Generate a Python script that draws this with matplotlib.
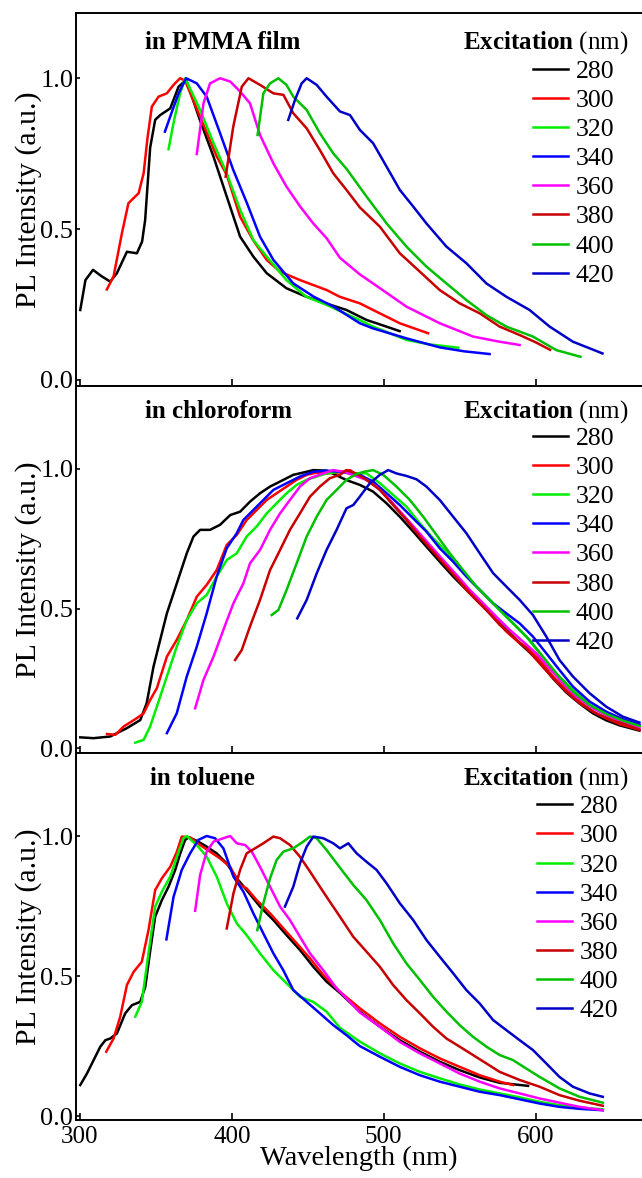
import matplotlib
matplotlib.use("Agg")
import matplotlib.pyplot as plt

plt.rcParams['font.family'] = ['Liberation Serif', 'DejaVu Serif']
plt.rcParams['mathtext.fontset'] = 'custom'
plt.rcParams['mathtext.rm'] = 'Liberation Serif'
plt.rcParams['mathtext.bf'] = 'Liberation Serif:bold'

excitation = ['280', '300', '320', '340', '360', '380', '400', '420']
colors = ['#000000', '#ff0000', '#00ee00', '#0000ff', '#ff00ff', '#c80000', '#00c000', '#0000c8']

# ---- in PMMA film ----
pmma_wl_280 = [300.3, 303.7, 308.7, 314, 320, 324.4, 331, 337.6, 341, 343, 346.3, 349.6, 352.9, 359.5, 365, 370,
               379, 388, 396.7, 405.5, 414.2, 423, 436, 449, 462, 475.5, 488.7, 500, 510.5]
pmma_pl_280 = [0.232, 0.331, 0.365, 0.345, 0.326, 0.354, 0.425, 0.42, 0.459, 0.53, 0.77, 0.862, 0.878, 0.90, 0.972, 0.995,
               0.862, 0.74, 0.608, 0.475, 0.409, 0.354, 0.304, 0.276, 0.254, 0.232, 0.199, 0.18, 0.162]
pmma_wl_300 = [317.8, 322.2, 327.7, 332, 338.7, 342, 344.5, 347.4, 351.8, 357.3, 361.7, 366, 369.3, 380, 390, 396.7,
               405.5, 414, 423, 431.8, 445, 462.5, 471, 484.3, 493, 510.6, 529.2]
pmma_pl_300 = [0.30, 0.343, 0.486, 0.586, 0.619, 0.685, 0.80, 0.906, 0.939, 0.950, 0.978, 1.0, 0.992, 0.862, 0.742, 0.68,
               0.541, 0.464, 0.398, 0.359, 0.331, 0.298, 0.276, 0.254, 0.232, 0.188, 0.155]
pmma_wl_320 = [358.4, 362, 366, 369.3, 379.2, 388, 396.7, 405.5, 414.2, 423, 436, 449, 462.4, 484, 493, 515, 530, 549]
pmma_pl_320 = [0.765, 0.86, 0.95, 1.0, 0.895, 0.785, 0.685, 0.564, 0.464, 0.409, 0.331, 0.276, 0.249, 0.199, 0.177,
               0.133, 0.118, 0.107]
pmma_wl_340 = [356, 360, 365, 370, 377, 383.5, 392.3, 401, 410, 418.6, 427.4, 440.5, 454, 467, 484.3, 493, 515, 537,
               553, 569.7]
pmma_pl_340 = [0.823, 0.88, 0.95, 1.0, 0.983, 0.939, 0.818, 0.696, 0.586, 0.475, 0.398, 0.320, 0.276, 0.243, 0.188,
               0.171, 0.138, 0.108, 0.095, 0.086]
pmma_wl_360 = [377, 381.4, 385.7, 392.3, 399, 405.5, 412, 418.6, 427.4, 436, 445, 453.6, 462.4, 471.2, 484.3, 493, 515,
               536.9, 558.8, 575, 589.5]
pmma_pl_360 = [0.749, 0.917, 0.983, 1.0, 0.989, 0.956, 0.917, 0.812, 0.718, 0.641, 0.575, 0.519, 0.470, 0.405, 0.35,
               0.32, 0.243, 0.188, 0.144, 0.128, 0.116]
pmma_wl_380 = [396, 401, 406.6, 411, 418.6, 427.4, 434, 440.5, 449.3, 458, 466.8, 475.5, 484.3, 497.5, 510.6, 523.8,
               536.9, 550, 563.2, 576.3, 589.5, 600, 609.5]
pmma_pl_380 = [0.674, 0.840, 0.972, 1.0, 0.978, 0.950, 0.945, 0.884, 0.834, 0.762, 0.685, 0.63, 0.572, 0.508, 0.42,
               0.359, 0.298, 0.254, 0.221, 0.177, 0.149, 0.125, 0.10]
pmma_wl_400 = [417, 420.8, 425.2, 430.7, 436, 440.5, 449.3, 458, 466.8, 475.5, 488.7, 501.9, 515, 528.1, 541.3, 554.4,
               567.6, 580.7, 598.2, 613.6, 629.5]
pmma_pl_400 = [0.812, 0.950, 0.983, 1.0, 0.978, 0.939, 0.895, 0.818, 0.751, 0.70, 0.608, 0.519, 0.442, 0.376, 0.320,
               0.265, 0.215, 0.177, 0.144, 0.099, 0.077]
pmma_wl_420 = [437.2, 441.6, 446, 449.3, 455.9, 462.4, 471.2, 477.8, 484.3, 493, 501.9, 510.6, 519.4, 528.1, 541.3,
               554.4, 567.6, 580.7, 596, 609.2, 624.5, 644]
pmma_pl_420 = [0.862, 0.928, 0.983, 1.0, 0.978, 0.939, 0.89, 0.878, 0.829, 0.785, 0.707, 0.63, 0.575, 0.519, 0.442,
               0.387, 0.32, 0.276, 0.232, 0.177, 0.127, 0.088]

# ---- in chloroform ----
chl_wl_280 = [300.3, 309, 320, 331, 339.8, 344, 348.5, 352.9, 357.3, 361.7, 366, 370.4, 374.8, 379.2, 385.7, 392.3,
              399, 405.5, 412, 418.6, 425.2, 431.8, 440.5, 449.3, 453.7, 462.4, 475.6, 484.3, 493, 501.9, 510.6, 519.4,
              528.1, 536.9, 545.7, 554.4, 563.2, 572, 580.7, 589.5, 602.6, 611.4, 620.1, 628.9, 637.7, 646.4, 655.2,
              668.3]
chl_pl_280 = [0.039, 0.036, 0.042, 0.072, 0.101, 0.161, 0.292, 0.388, 0.483, 0.555, 0.626, 0.698, 0.758, 0.782, 0.782,
              0.800, 0.835, 0.847, 0.883, 0.913, 0.937, 0.955, 0.979, 0.990, 0.996, 0.994, 0.96, 0.943, 0.919, 0.877,
              0.829, 0.776, 0.722, 0.668, 0.615, 0.567, 0.519, 0.471, 0.424, 0.376, 0.31, 0.25, 0.2, 0.16, 0.125, 0.1,
              0.082, 0.063]
chl_wl_300 = [317.9, 323.4, 328.9, 336.5, 342, 346.3, 350.7, 357.3, 363.8, 370.4, 377, 383.5, 390.1, 396.7, 403.3,
              409.8, 416.4, 423, 429.5, 436.1, 442.7, 449.3, 455.9, 462.4, 469, 477.8, 484.3, 493, 501.9, 510.6, 519.4,
              528.1, 536.9, 545.7, 554.4, 563.2, 572, 580.7, 589.5, 593.8, 602.6, 611.4, 620.1, 628.9, 637.7, 646.4,
              655.2, 668.3]
chl_pl_300 = [0.051, 0.048, 0.078, 0.104, 0.125, 0.173, 0.215, 0.328, 0.388, 0.459, 0.543, 0.585, 0.638, 0.728, 0.764,
              0.817, 0.853, 0.889, 0.913, 0.937, 0.961, 0.979, 0.987, 0.984, 0.987, 0.996, 0.972, 0.955, 0.9, 0.847,
              0.794, 0.734, 0.68, 0.627, 0.567, 0.519, 0.471, 0.418, 0.376, 0.364, 0.316, 0.257, 0.209, 0.167, 0.131,
              0.107, 0.087, 0.066]
chl_wl_320 = [336.5, 342, 346.3, 350.7, 357.3, 363.8, 370.4, 377, 383.5, 390.1, 396.7, 403.3, 409.8, 416.4, 423, 429.5,
              436.1, 442.7, 449.3, 455.9, 462.4, 471.2, 480, 488.7, 497.5, 506.2, 515, 523.8, 532.5, 541.3, 550, 558.8,
              567.6, 576.3, 585.1, 593.8, 602.6, 613.6, 624.5, 635.5, 646.4, 657.4, 668.3]
chl_pl_320 = [0.02, 0.03, 0.078, 0.149, 0.257, 0.364, 0.459, 0.519, 0.549, 0.615, 0.674, 0.698, 0.758, 0.794, 0.841,
              0.877, 0.913, 0.943, 0.961, 0.973, 0.984, 0.99, 0.985, 0.984, 0.949, 0.907, 0.865, 0.805, 0.752, 0.704,
              0.65, 0.591, 0.543, 0.495, 0.447, 0.4, 0.34, 0.268, 0.209, 0.155, 0.119, 0.095, 0.075]
chl_wl_340 = [357.3, 363.8, 370.4, 377, 383.5, 390.1, 396.7, 403.3, 407.6, 414.2, 420.8, 427.4, 436.1, 444.9, 453.6,
              462.4, 471.2, 484.3, 493, 501.9, 510.6, 519.4, 528.1, 536.9, 545.7, 554.4, 563.2, 572, 580.7, 589.5, 598.2,
              607, 615.7, 624.5, 635.5, 646.4, 657.4, 668.3]
chl_pl_340 = [0.054, 0.125, 0.257, 0.364, 0.483, 0.615, 0.716, 0.77, 0.817, 0.853, 0.889, 0.925, 0.949, 0.973, 0.99,
              0.994, 0.99, 0.979, 0.955, 0.913, 0.871, 0.823, 0.776, 0.716, 0.668, 0.615, 0.567, 0.519, 0.483, 0.447,
              0.4, 0.34, 0.28, 0.221, 0.167, 0.131, 0.104, 0.084]
chl_wl_360 = [375.9, 381.4, 388, 394.5, 401.1, 407.7, 412, 418.6, 425.2, 431.8, 438.3, 444.9, 451.5, 460.2, 466.8,
              473.4, 480, 488.7, 495.3, 504, 512.8, 521.6, 530.3, 539.1, 547.9, 556.6, 565.4, 574.1, 582.9, 591.7,
              600.4, 609.2, 617.9, 626.7, 637.7, 648.6, 659.5, 668.3]
chl_pl_360 = [0.143, 0.245, 0.328, 0.424, 0.519, 0.591, 0.662, 0.71, 0.782, 0.841, 0.889, 0.937, 0.967, 0.984, 0.996,
              0.99, 0.978, 0.961, 0.937, 0.889, 0.835, 0.782, 0.728, 0.674, 0.621, 0.567, 0.519, 0.471, 0.424, 0.382,
              0.34, 0.286, 0.233, 0.185, 0.143, 0.113, 0.09, 0.072]
chl_wl_380 = [402.2, 406.6, 412, 418.6, 425.2, 431.8, 438.3, 444.9, 451.5, 458, 464.6, 471.2, 475.5, 482, 488.7, 497.5,
              506.2, 515, 523.8, 532.5, 541.3, 550, 558.8, 567.6, 576.3, 585.1, 593.8, 602.6, 611.4, 620.1, 628.9,
              639.8, 650.8, 661.7, 668.3]
chl_pl_380 = [0.316, 0.352, 0.436, 0.531, 0.638, 0.71, 0.782, 0.841, 0.901, 0.937, 0.967, 0.979, 0.996, 0.983, 0.961,
              0.925, 0.871, 0.817, 0.758, 0.704, 0.65, 0.597, 0.543, 0.495, 0.442, 0.4, 0.358, 0.304, 0.251, 0.203,
              0.161, 0.125, 0.099, 0.08, 0.066]
chl_wl_400 = [426.3, 430.7, 436.1, 442.7, 449.3, 455.9, 462.4, 469, 475.5, 482.1, 487, 493, 499.7, 508.4, 517.2, 526,
              534.7, 543.5, 552.2, 561, 569.8, 578.5, 587.3, 596, 604.8, 613.6, 624.5, 635.5, 646.4, 657.4, 668.3]
chl_pl_400 = [0.477, 0.495, 0.567, 0.662, 0.758, 0.829, 0.889, 0.925, 0.961, 0.982, 0.99, 0.996, 0.979, 0.937, 0.889,
              0.829, 0.764, 0.698, 0.638, 0.579, 0.531, 0.483, 0.436, 0.388, 0.328, 0.268, 0.203, 0.155, 0.123, 0.099,
              0.08]
chl_wl_420 = [443.1, 449.3, 455.9, 462.4, 469, 475.5, 480, 484.3, 490.9, 497.5, 503, 508.4, 515, 521.6, 528.1, 536.9,
              545.7, 554.4, 563.2, 572, 580.7, 589.5, 598.2, 607, 615.7, 624.5, 635.5, 646.4, 657.4, 668.3]
chl_pl_420 = [0.465, 0.531, 0.626, 0.71, 0.782, 0.859, 0.871, 0.901, 0.949, 0.979, 0.996, 0.984, 0.975, 0.963, 0.937,
              0.889, 0.829, 0.77, 0.698, 0.627, 0.579, 0.531, 0.477, 0.4, 0.316, 0.257, 0.197, 0.149, 0.113, 0.092]

# ---- in toluene ----
tol_wl_280 = [300.3, 304.7, 309.1, 313.5, 316.8, 320, 324.4, 329.9, 334.3, 339.8, 343.1, 346.4, 349.6, 354, 358.4,
              362.8, 366.1, 369.3, 371.6, 377, 383.5, 390.1, 396.7, 403.3, 409.8, 418.6, 427.4, 436.1, 444.9, 453.7,
              462.4, 471.2, 484.3, 497.5, 510.6, 523.8, 536.9, 550, 563.2, 576.3, 595]
tol_pl_280 = [0.111, 0.152, 0.2, 0.248, 0.271, 0.277, 0.295, 0.367, 0.396, 0.408, 0.462, 0.593, 0.712, 0.771, 0.819,
              0.879, 0.938, 0.986, 0.995, 0.983, 0.962, 0.938, 0.902, 0.849, 0.807, 0.748, 0.7, 0.646, 0.593, 0.533,
              0.48, 0.44, 0.373, 0.319, 0.271, 0.23, 0.194, 0.164, 0.138, 0.119, 0.108]
tol_wl_300 = [317.4, 322.2, 326.6, 331, 335.4, 340.8, 345.2, 349.6, 354, 359.5, 363.9, 367.1, 372.6, 379.2, 385.7,
              392.3, 398.9, 405.5, 409.8, 416.4, 425.2, 434, 442.7, 451.5, 460.2, 471.2, 484.3, 497.5, 510.6, 523.8,
              536.9, 550, 563.2, 576.3, 585.1]
tol_pl_300 = [0.23, 0.277, 0.355, 0.468, 0.515, 0.551, 0.664, 0.807, 0.849, 0.89, 0.944, 0.998, 0.995, 0.968, 0.944,
              0.92, 0.89, 0.825, 0.813, 0.771, 0.724, 0.67, 0.617, 0.563, 0.504, 0.444, 0.385, 0.331, 0.283, 0.242,
              0.206, 0.176, 0.146, 0.123, 0.111]
tol_wl_320 = [336.5, 340.8, 345.2, 349.6, 354, 359.5, 363.9, 368.2, 370.4, 377, 383.5, 390.1, 396.7, 403.3, 409.8,
              418.6, 427.4, 436.1, 444.9, 453.6, 462.4, 471.2, 484.3, 497.5, 510.6, 523.8, 536.9, 550, 563.2, 576.3,
              589.5, 602.6, 615.7, 628.9, 644.2]
tol_pl_320 = [0.355, 0.408, 0.581, 0.748, 0.801, 0.855, 0.926, 0.992, 1.0, 0.968, 0.926, 0.855, 0.76, 0.688, 0.646,
              0.581, 0.521, 0.474, 0.426, 0.408, 0.373, 0.315, 0.266, 0.224, 0.188, 0.158, 0.135, 0.113, 0.095, 0.081,
              0.067, 0.051, 0.039, 0.031, 0.024]
tol_wl_340 = [357, 361.7, 367.1, 372.6, 378, 383.5, 389, 394.5, 401.1, 407.7, 414.2, 420.8, 427.4, 433.9, 440.5, 449.3,
              458, 466.8, 475.5, 484.3, 497.5, 510.6, 523.8, 536.9, 550, 563.2, 576.3, 589.5, 602.6, 615.7, 628.9, 644.2]
tol_pl_340 = [0.631, 0.783, 0.879, 0.938, 0.986, 1.0, 0.992, 0.956, 0.855, 0.801, 0.724, 0.652, 0.581, 0.521, 0.45,
              0.408, 0.367, 0.325, 0.289, 0.25, 0.212, 0.176, 0.146, 0.123, 0.105, 0.087, 0.075, 0.06, 0.045, 0.033,
              0.026, 0.021]
tol_wl_360 = [375.9, 379.2, 383.5, 388, 394.5, 399, 403.3, 408.8, 413.2, 418.6, 425.2, 431.8, 438.3, 444.9, 451.5,
              460.2, 469, 477.8, 484.3, 497.5, 510.6, 523.8, 536.9, 550, 563.2, 576.3, 589.5, 602.6, 615.7, 628.9, 644.2]
tol_pl_360 = [0.733, 0.861, 0.944, 0.98, 0.992, 1.0, 0.974, 0.968, 0.944, 0.89, 0.819, 0.748, 0.7, 0.64, 0.581, 0.521,
              0.456, 0.408, 0.37, 0.319, 0.265, 0.224, 0.188, 0.152, 0.123, 0.099, 0.081, 0.063, 0.048, 0.033, 0.021]
tol_wl_380 = [396.7, 401.1, 405.5, 409.8, 415.3, 420.8, 427.4, 431.8, 438.3, 444.9, 451.5, 458, 464.6, 471.2, 480,
              488.7, 497.5, 506.2, 515, 523.8, 532.5, 541.3, 550, 558.8, 567.6, 576.3, 589.5, 602.6, 615.7, 628.9, 644.2]
tol_pl_380 = [0.67, 0.795, 0.879, 0.938, 0.956, 0.974, 0.998, 0.992, 0.968, 0.926, 0.873, 0.819, 0.765, 0.712, 0.64,
              0.587, 0.533, 0.468, 0.414, 0.367, 0.319, 0.277, 0.248, 0.218, 0.188, 0.158, 0.129, 0.105, 0.075, 0.055,
              0.037]
tol_wl_400 = [416.8, 420.8, 425.2, 429.5, 433.9, 440.5, 447.1, 451.5, 455.9, 462.4, 471.2, 480, 488.7, 497.5, 506.2,
              515, 523.8, 532.5, 541.3, 550, 558.8, 567.6, 576.3, 585.1, 593.8, 602.6, 615.7, 628.9, 644.2]
tol_pl_400 = [0.664, 0.76, 0.849, 0.914, 0.944, 0.956, 0.98, 0.998, 0.992, 0.95, 0.887, 0.825, 0.771, 0.7, 0.617,
              0.545, 0.486, 0.426, 0.373, 0.325, 0.283, 0.248, 0.218, 0.2, 0.17, 0.14, 0.099, 0.069, 0.048]
tol_wl_420 = [435, 440.5, 444.9, 449.3, 453.7, 460.2, 466.8, 471.2, 476.7, 482.2, 488.7, 495.3, 501.9, 510.6, 519.4,
              528.1, 536.9, 545.7, 554.4, 563.2, 572, 580.7, 589.5, 598.2, 607, 615.7, 624.5, 635.5, 644.2]
tol_pl_420 = [0.748, 0.819, 0.902, 0.962, 0.998, 0.992, 0.974, 0.956, 0.974, 0.938, 0.908, 0.879, 0.831, 0.76, 0.7,
              0.629, 0.569, 0.51, 0.45, 0.402, 0.343, 0.307, 0.271, 0.236, 0.188, 0.14, 0.105, 0.081, 0.069]

pmma_wl = [pmma_wl_280, pmma_wl_300, pmma_wl_320, pmma_wl_340, pmma_wl_360, pmma_wl_380, pmma_wl_400, pmma_wl_420]
pmma_pl = [pmma_pl_280, pmma_pl_300, pmma_pl_320, pmma_pl_340, pmma_pl_360, pmma_pl_380, pmma_pl_400, pmma_pl_420]
chl_wl = [chl_wl_280, chl_wl_300, chl_wl_320, chl_wl_340, chl_wl_360, chl_wl_380, chl_wl_400, chl_wl_420]
chl_pl = [chl_pl_280, chl_pl_300, chl_pl_320, chl_pl_340, chl_pl_360, chl_pl_380, chl_pl_400, chl_pl_420]
tol_wl = [tol_wl_280, tol_wl_300, tol_wl_320, tol_wl_340, tol_wl_360, tol_wl_380, tol_wl_400, tol_wl_420]
tol_pl = [tol_pl_280, tol_pl_300, tol_pl_320, tol_pl_340, tol_pl_360, tol_pl_380, tol_pl_400, tol_pl_420]

panels = [
    ('in PMMA film', pmma_wl, pmma_pl, [0.1184, 0.6723, 0.8816, 0.3166], (-0.02, 1.216), 0.122, 0.920, 0.875, 0.807),
    ('in chloroform', chl_wl, chl_pl, [0.1184, 0.3608, 0.8816, 0.3115], (-0.017, 1.297), 0.122, 0.930, 0.889, 0.807),
    ('in toluene', tol_wl, tol_pl, [0.1184, 0.0492, 0.8816, 0.3115], (-0.014, 1.296), 0.130, 0.930, 0.885, 0.814),
]

fig = plt.figure(figsize=(6.42, 11.78), dpi=100)

for i, (title, wls, pls, rect, ylim, tx, ty, ly, lx) in enumerate(panels):
    ax = fig.add_axes(rect)
    for wl, pl, lab, col in zip(wls, pls, excitation, colors):
        ax.plot(wl, pl, color=col, lw=1.8, label=lab)
    ax.set_xlim(297.5, 670)
    ax.set_ylim(*ylim)
    ax.set_xticks([300, 400, 500, 600])
    ax.set_yticks([0.0, 0.5, 1.0])
    ax.set_yticklabels(['0.0', '0.5', '1.0'])
    ax.tick_params(axis='x', direction='in', length=5, width=1.2, labelsize=18, pad=4)
    ax.tick_params(axis='y', direction='in', length=3, width=1.2, labelsize=19, pad=2)
    if i < 2:
        ax.tick_params(axis='x', labelbottom=False)
    else:
        ax.set_xlabel('Wavelength (nm)', fontsize=20.5, labelpad=-1)
    ax.spines['right'].set_visible(False)
    for s in ['top', 'bottom', 'left']:
        ax.spines[s].set_linewidth(1.4)
    ax.set_ylabel('PL Intensity (a.u.)', fontsize=21.5, labelpad=-1)
    ax.text(tx, ty, title, transform=ax.transAxes, fontsize=18, fontweight='bold', va='center', ha='left')
    ax.text(0.976, ty, r'$\mathbf{Excitation}$ (nm)', transform=ax.transAxes, fontsize=18, va='center', ha='right')
    ax.legend(loc='upper left', bbox_to_anchor=(lx, ly), frameon=False, fontsize=18.5, handlelength=1.36,
              handletextpad=0.3, labelspacing=0.24, borderpad=0, borderaxespad=0)

fig.savefig('out.png', dpi=100)
